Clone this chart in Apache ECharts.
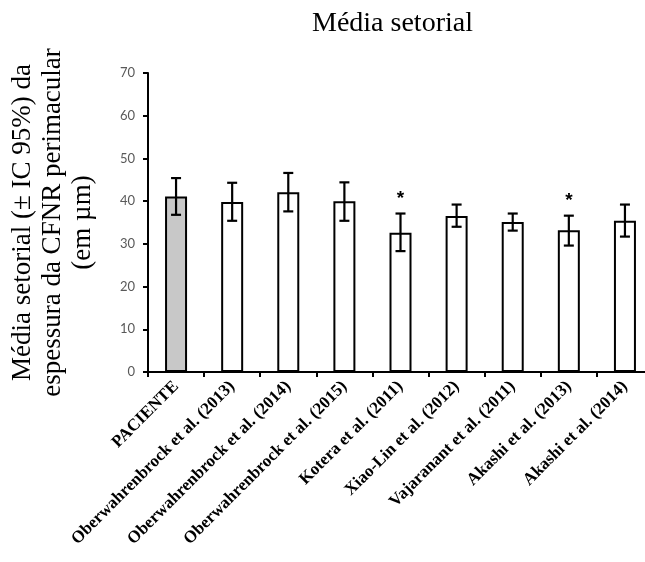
<!DOCTYPE html>
<html>
<head>
<meta charset="utf-8">
<script src="https://cdn.jsdelivr.net/npm/echarts@6/dist/echarts.min.js"></script>
<style>
  html, body { margin: 0; padding: 0; background: #fff; overflow: hidden; }
  #chart { width: 660px; height: 562px; }
</style>
</head>
<body>
<div id="chart"></div>
<script>
// Studies compared with the patient's sectoral mean RNFL thickness
const categories = [
  'PACIENTE',
  'Oberwahrenbrock et al. (2013)',
  'Oberwahrenbrock et al. (2014)',
  'Oberwahrenbrock et al. (2015)',
  'Kotera et al. (2011)',
  'Xiao-Lin et al. (2012)',
  'Vajaranant et al. (2011)',
  'Akashi et al. (2013)',
  'Akashi et al. (2014)'
];
// Means and 95% confidence limits (µm)
const means  = [41.1, 39.8, 42.1, 40.0, 32.6, 36.5, 35.1, 33.2, 35.4];
const ciLow  = [36.8, 35.4, 37.6, 35.4, 28.3, 34.0, 33.1, 29.6, 31.7];
const ciHigh = [45.4, 44.3, 46.6, 44.4, 37.1, 39.2, 37.1, 36.6, 39.2];
// Studies flagged as significantly different from the patient
const significant = [0, 0, 0, 0, 1, 0, 0, 1, 0];
const yTicks = [0, 10, 20, 30, 40, 50, 60, 70];

const chart = echarts.init(document.getElementById('chart'), null, { renderer: 'canvas' });

const errorData = categories.map((c, i) => [i, ciLow[i], ciHigh[i], significant[i]]);

chart.setOption({
  animation: false,
  backgroundColor: '#ffffff',
  title: {
    text: 'Média setorial',
    left: 307,
    top: 5,
    textStyle: { fontFamily: 'Liberation Serif', fontSize: 28, fontWeight: 'normal', color: '#000' }
  },
  grid: { left: 147, top: 73, right: 7, bottom: 190, containLabel: false },
  xAxis: {
    type: 'category',
    data: categories,
    axisLine: { lineStyle: { color: '#000', width: 2 } },
    axisTick: { show: true, length: 5, lineStyle: { color: '#000', width: 2 } },
    axisLabel: {
      interval: 0,
      rotate: 45,
      margin: 12,
      fontFamily: 'Liberation Serif',
      fontWeight: 'bold',
      fontSize: 17,
      color: '#000'
    }
  },
  yAxis: {
    type: 'value',
    min: yTicks[0],
    max: yTicks[yTicks.length - 1],
    interval: 10,
    name: 'Média setorial (± IC 95%) da\nespessura da CFNR perimacular\n(em µm)',
    nameLocation: 'middle',
    nameRotate: 90,
    nameGap: 50,
    nameTextStyle: { fontFamily: 'Liberation Serif', fontSize: 27, color: '#000', lineHeight: 30, align: 'center' },
    axisLine: { show: true, lineStyle: { color: '#000', width: 2 } },
    axisTick: { show: true, length: 5, lineStyle: { color: '#000', width: 2 } },
    splitLine: { show: false },
    axisLabel: { fontFamily: 'Lato', fontSize: 13, color: '#595959', margin: 13 }
  },
  series: [
    {
      type: 'bar',
      data: means.map((v, i) => ({
        value: v,
        itemStyle: { color: i === 0 ? '#c8c8c8' : '#ffffff' }
      })),
      barWidth: 22,
      itemStyle: { borderColor: '#000', borderWidth: 2 },
      z: 2
    },
    {
      type: 'custom',
      data: errorData,
      z: 3,
      renderItem: function (params, api) {
        const x = api.value(0);
        const lo = api.coord([x, api.value(1)]);
        const hi = api.coord([x, api.value(2)]);
        const cap = 5;
        const style = { stroke: '#000', lineWidth: 2.2, fill: null };
        const children = [
          { type: 'line', shape: { x1: lo[0], y1: lo[1], x2: hi[0], y2: hi[1] }, style: style },
          { type: 'line', shape: { x1: hi[0] - cap, y1: hi[1], x2: hi[0] + cap, y2: hi[1] }, style: style },
          { type: 'line', shape: { x1: lo[0] - cap, y1: lo[1], x2: lo[0] + cap, y2: lo[1] }, style: style }
        ];
        if (api.value(3)) {
          children.push({
            type: 'text',
            style: {
              text: '*',
              x: hi[0],
              y: hi[1] - 5,
              align: 'center',
              verticalAlign: 'bottom',
              font: 'bold 19px "Liberation Sans"',
              fill: '#000'
            }
          });
        }
        return { type: 'group', children: children };
      }
    }
  ]
});
</script>
</body>
</html>
